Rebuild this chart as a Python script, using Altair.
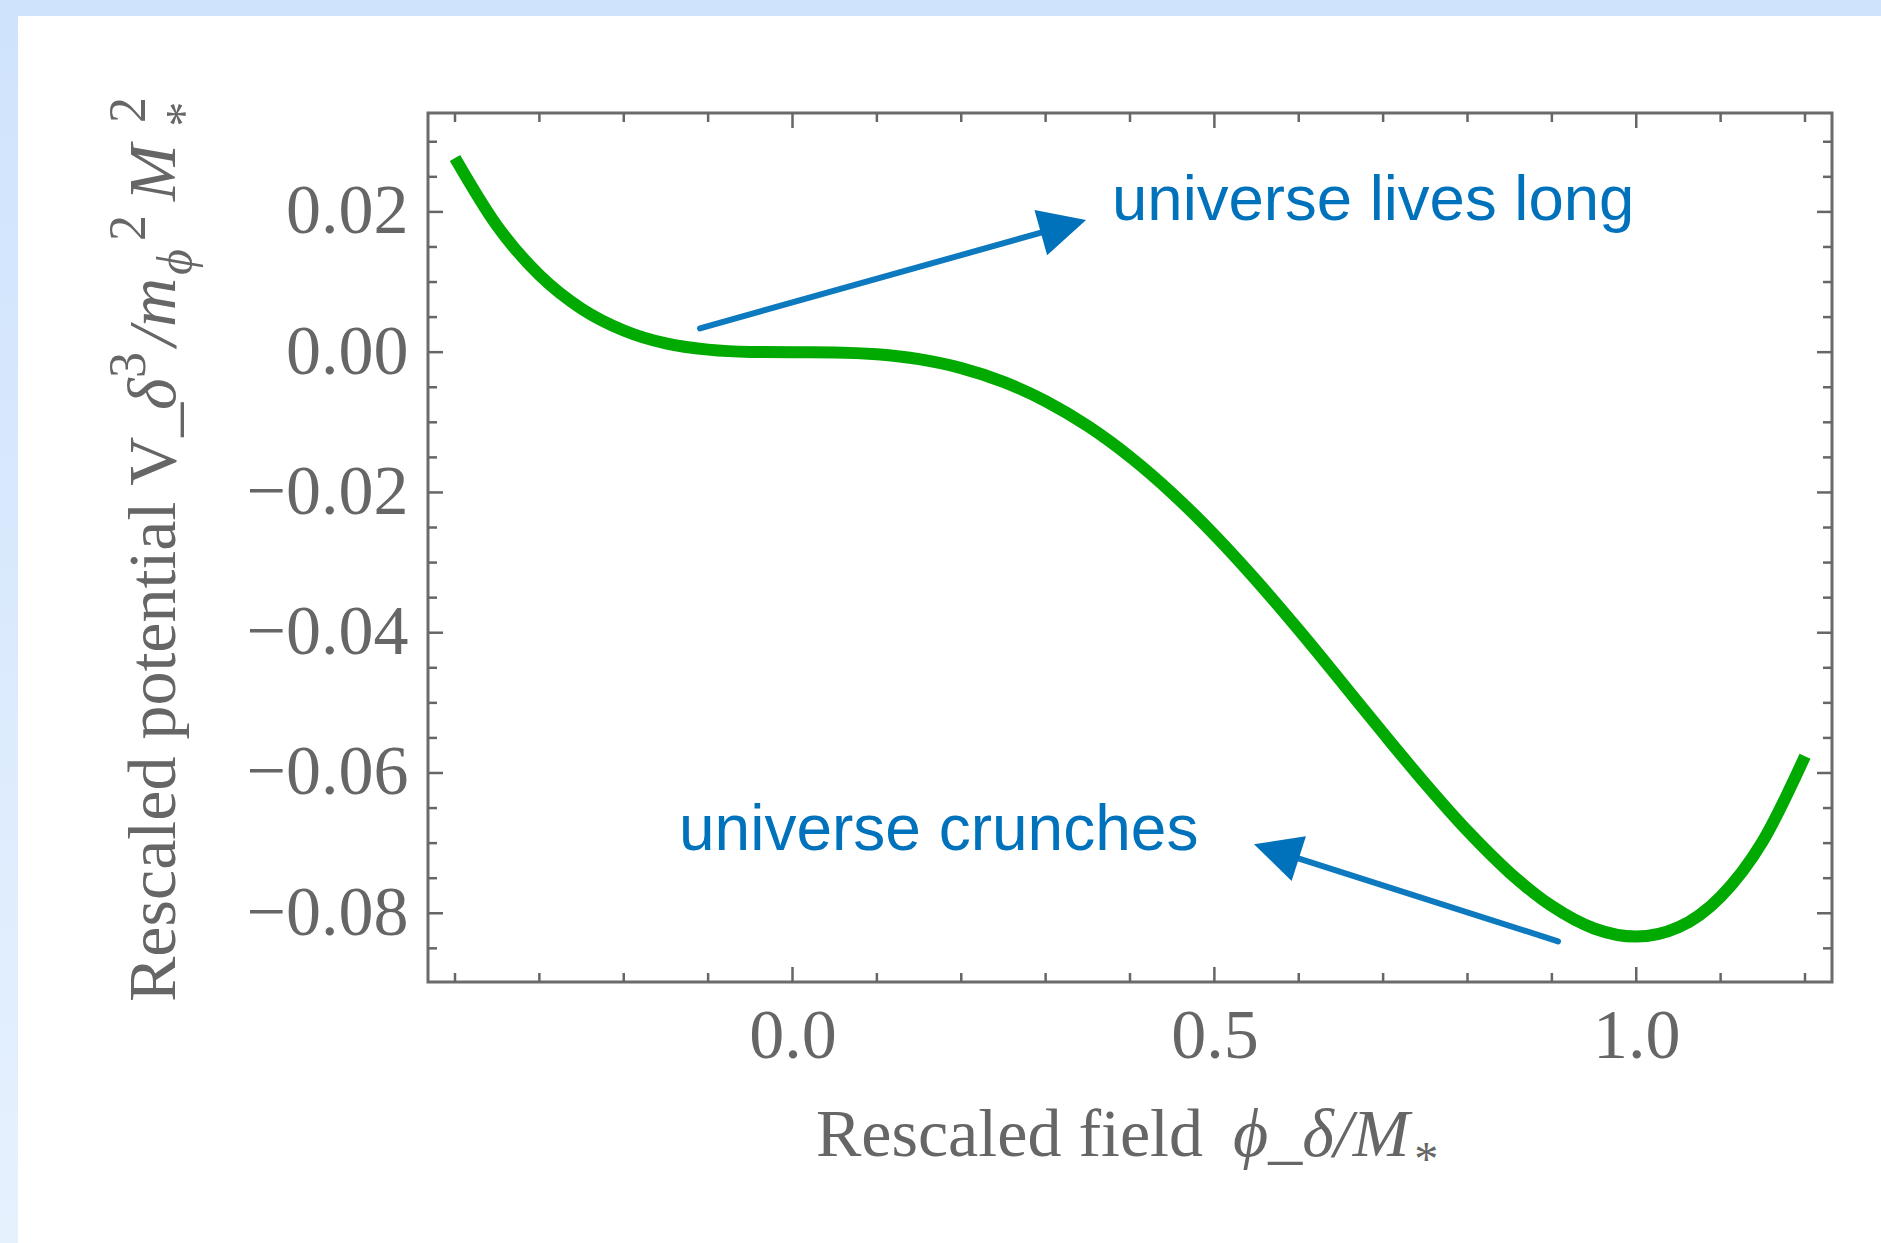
import altair as alt
import pandas as pd

# ---------------- data ----------------
field = [-0.40, -0.35, -0.30, -0.25, -0.20, -0.15, -0.10, -0.05, 0.00, 0.05,
         0.10, 0.15, 0.20, 0.25, 0.30, 0.35, 0.40, 0.45, 0.50, 0.55,
         0.60, 0.65, 0.70, 0.75, 0.80, 0.85, 0.90, 0.95, 1.00, 1.05,
         1.10, 1.15, 1.20]
potential = [0.0277, 0.0180, 0.0110, 0.0062, 0.0031, 0.00125, 0.00036, 0.00004, 0.0, -0.00004,
             -0.00031, -0.0010, -0.00227, -0.00423, -0.00698, -0.01054, -0.01493, -0.02012, -0.02604, -0.03258,
             -0.0396, -0.04692, -0.05431, -0.06152, -0.06827, -0.07421, -0.07898, -0.08217, -0.08333, -0.08200,
             -0.07764, -0.06971, -0.0576]

x_major = [0.0, 0.5, 1.0]
x_minor = [-0.4, -0.3, -0.2, -0.1, 0.1, 0.2, 0.3, 0.4, 0.6, 0.7, 0.8, 0.9, 1.1, 1.2]
y_major = [-0.08, -0.06, -0.04, -0.02, 0.0, 0.02]
y_minor = [-0.085, -0.075, -0.07, -0.065, -0.055, -0.05, -0.045, -0.035, -0.03,
           -0.025, -0.015, -0.01, -0.005, 0.005, 0.01, 0.015, 0.025, 0.03]

x_domain = [-0.432, 1.232]
y_domain = [-0.0898, 0.0341]

# annotation arrows: tail -> head centre, head angle (deg, screen)
tail_x = [-0.1096, 0.9073]
tail_y = [0.0034, -0.0840]
head_x = [0.3211, 0.5735]
head_y = [0.01793, -0.07118]
head_angle = [74.4, 287.7]

labels_text = ["universe lives long", "universe crunches"]

# ---------------- styling ----------------
W, H = 1404, 869
GRAY = "#666666"
BLUE = "#0072bb"
GREEN = "#00aa00"
SERIF = "Liberation Serif"
SANS = "Liberation Sans"

xs = alt.Scale(domain=x_domain, nice=False, zero=False)
ys = alt.Scale(domain=y_domain, nice=False, zero=False)

x_axis = alt.Axis(values=x_major, format=".1f", ticks=False, tickSize=0, domain=False, grid=False,
                  labelFont=SERIF, labelFontSize=70, labelColor=GRAY, labelPadding=20, title=None)
y_axis = alt.Axis(values=y_major, format=".2f", ticks=False, tickSize=0, domain=False, grid=False,
                  labelFont=SERIF, labelFontSize=70, labelColor=GRAY, labelPadding=20, title=None)

one = pd.DataFrame({"k": [0]})

curve = alt.Chart(pd.DataFrame({"phi": field, "V": potential})).mark_line(
    color=GREEN, strokeWidth=12, interpolate="monotone", strokeCap="butt"
).encode(
    x=alt.X("phi:Q", scale=xs, axis=x_axis),
    y=alt.Y("V:Q", scale=ys, axis=y_axis),
)

def yticks(vals, length, right=False):
    x0 = W - length if right else 0
    return alt.Chart(pd.DataFrame({"v": vals})).mark_rule(color=GRAY, strokeWidth=2.5).encode(
        y=alt.Y("v:Q", scale=ys, axis=y_axis), x=alt.value(x0), x2=alt.value(x0 + length))

def xticks(vals, length, top=False):
    y0 = 0 if top else H - length
    return alt.Chart(pd.DataFrame({"v": vals})).mark_rule(color=GRAY, strokeWidth=2.5).encode(
        x=alt.X("v:Q", scale=xs, axis=x_axis), y=alt.value(y0), y2=alt.value(y0 + length))

ticks = [yticks(y_major, 15), yticks(y_minor, 9), yticks(y_major, 15, True), yticks(y_minor, 9, True),
         xticks(x_major, 15), xticks(x_minor, 9), xticks(x_major, 15, True), xticks(x_minor, 9, True)]

arrows_df = pd.DataFrame({"x": tail_x, "y": tail_y, "hx": head_x, "hy": head_y, "ang": head_angle})

shafts = alt.Chart(arrows_df).mark_rule(color=BLUE, strokeWidth=6, strokeCap="round", opacity=0.95).encode(
    x=alt.X("x:Q", scale=xs, axis=x_axis), y=alt.Y("y:Q", scale=ys, axis=y_axis),
    x2="hx:Q", y2="hy:Q")

heads = alt.Chart(arrows_df).mark_point(
    shape="M0,-1L1,1L-1,1Z", filled=True, size=2209, color=BLUE, opacity=1
).encode(
    x=alt.X("hx:Q", scale=xs, axis=x_axis), y=alt.Y("hy:Q", scale=ys, axis=y_axis),
    angle=alt.Angle("ang:Q", scale=None))

def txt(s, x, y, size=68, italic=False, angle=None, align="left", font=SERIF, color=GRAY):
    kw = dict(text=s, font=font, fontSize=size, color=color, align=align, baseline="alphabetic")
    if italic:
        kw["fontStyle"] = "italic"
    if angle is not None:
        kw["angle"] = angle
    return alt.Chart(one).mark_text(**kw).encode(x=alt.value(x), y=alt.value(y))

annot = [
    txt(labels_text[0], 684, 107, size=63.5, font=SANS, color=BLUE),
    txt(labels_text[1], 251, 737, size=64, font=SANS, color=BLUE),
]

xtitle = [
    txt("Rescaled field", 775, 1043, align="right"),
    txt("\u03d5_\u03b4/M", 805, 1043, italic=True),
    txt("*", 984, 1062, size=48, italic=True),
]

ytitle = [
    txt("Rescaled potential V_", -253, 889, angle=270),
    txt("\u03b4", -253, 297, italic=True, angle=270),
    txt("3", -283, 265, size=52, angle=270),
    txt("/m", -253, 233, italic=True, angle=270),
    txt("\u03d5", -236, 162, size=50, italic=True, angle=270),
    txt("2", -283, 128, size=52, angle=270),
    txt("M", -253, 88, italic=True, angle=270),
    txt("2", -283, 10, size=52, angle=270),
    txt("*", -228, 16, size=50, italic=True, angle=270),
]

# light-blue slide border
left_strip = alt.Chart(one).mark_rect(
    fill=alt.Gradient(gradient="linear", x1=0, y1=0, x2=0, y2=1,
                      stops=[alt.GradientStop(offset=0, color="#cfe3fc"),
                             alt.GradientStop(offset=1, color="#e6f1fe")])
).encode(x=alt.value(-428), x2=alt.value(-410), y=alt.value(-113), y2=alt.value(1130))
top_strip = alt.Chart(one).mark_rect(fill="#cfe4fc").encode(
    x=alt.value(-428), x2=alt.value(1453), y=alt.value(-113), y2=alt.value(-97))

chart = alt.layer(
    left_strip, top_strip, *ticks, curve, shafts, heads, *annot, *xtitle, *ytitle
).properties(
    width=W, height=H,
    autosize=alt.AutoSizeParams(type="none"),
    padding={"left": 428, "top": 113, "right": 49, "bottom": 261},
    background="white",
).configure_view(
    stroke="#6b6b6b", strokeWidth=3
)

chart.save("out.html", embed_options={"renderer": "svg", "actions": False})
